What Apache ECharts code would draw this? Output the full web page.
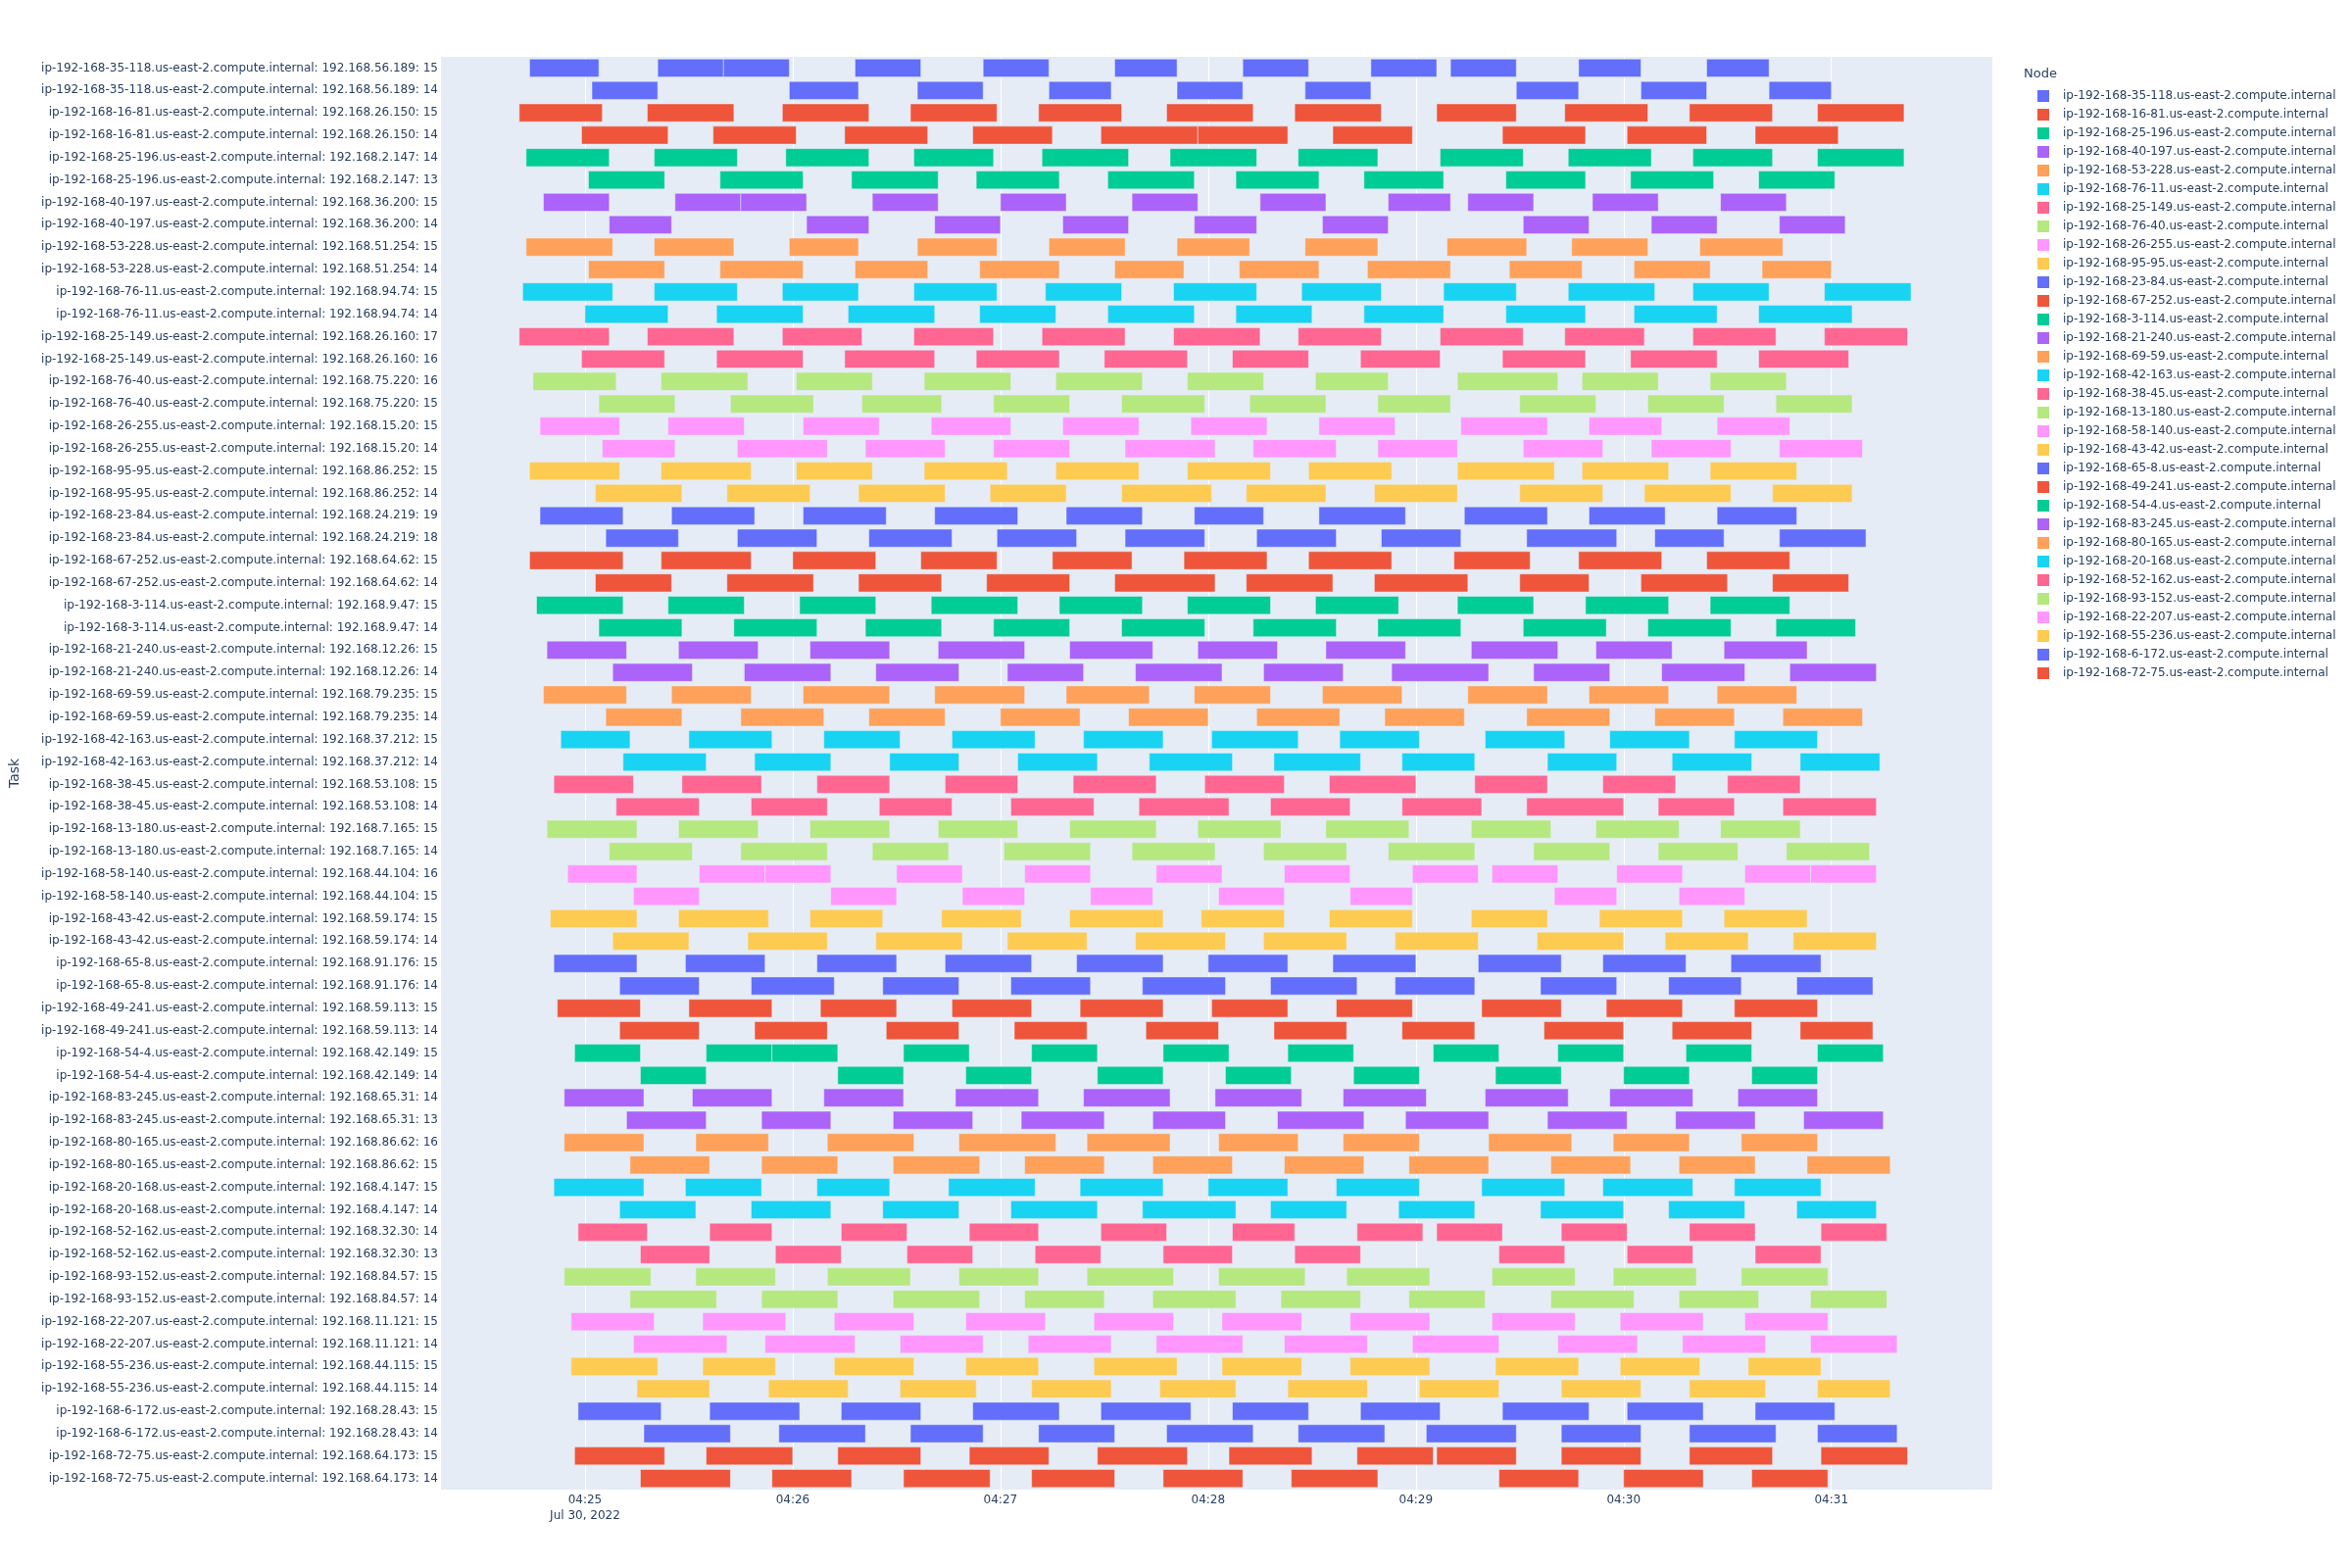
<!DOCTYPE html>
<html><head><meta charset="utf-8">
<script src="https://cdn.jsdelivr.net/npm/echarts@6/dist/echarts.min.js"></script>
<style>html,body{margin:0;padding:0;background:#fff}#chart{width:2400px;height:1600px}</style>
</head><body><div id="chart"></div>
<script>
// Nodes (legend order), their pod IPs and the two task ids shown per node
const nodeHosts = ["35-118","16-81","25-196","40-197","53-228","76-11","25-149","76-40","26-255","95-95","23-84","67-252","3-114","21-240","69-59","42-163","38-45","13-180","58-140","43-42","65-8","49-241","54-4","83-245","80-165","20-168","52-162","93-152","22-207","55-236","6-172","72-75"];
const nodeIPs = ["192.168.56.189","192.168.26.150","192.168.2.147","192.168.36.200","192.168.51.254","192.168.94.74","192.168.26.160","192.168.75.220","192.168.15.20","192.168.86.252","192.168.24.219","192.168.64.62","192.168.9.47","192.168.12.26","192.168.79.235","192.168.37.212","192.168.53.108","192.168.7.165","192.168.44.104","192.168.59.174","192.168.91.176","192.168.59.113","192.168.42.149","192.168.65.31","192.168.86.62","192.168.4.147","192.168.32.30","192.168.84.57","192.168.11.121","192.168.44.115","192.168.28.43","192.168.64.173"];
const taskIds = [[15,14],[15,14],[14,13],[15,14],[15,14],[15,14],[17,16],[16,15],[15,14],[15,14],[19,18],[15,14],[15,14],[15,14],[15,14],[15,14],[15,14],[15,14],[16,15],[15,14],[15,14],[15,14],[15,14],[14,13],[16,15],[15,14],[14,13],[15,14],[15,14],[15,14],[15,14],[15,14]];
const palette = ["#636efa","#EF553B","#00cc96","#ab63fa","#FFA15A","#19d3f3","#FF6692","#B6E880","#FF97FF","#FECB52"];

// x tick labels (minutes after 04:00 on Jul 30, 2022)
const tickMinutes = [25,26,27,28,29,30,31];

// Bars per task row: [start, end] in seconds relative to 04:25:00
const bars01a = [[-16,4],[21,40],[40,59],[78,97],[115,134],[153,171],[190,209],[227,246],[250,269],[287,305],[324,342]];
const bars01b = [[2,21],[59,79],[96,115],[134,152],[171,190],[208,227],[269,287],[305,324],[342,360]];
const bars02a = [[-19,5],[18,43],[57,82],[94,119],[131,155],[168,193],[205,230],[246,269],[283,307],[319,343],[356,381]];
const bars02b = [[-1,24],[37,61],[75,99],[112,135],[149,177],[177,203],[216,239],[265,289],[301,324],[338,362]];
const bars03a = [[-17,7],[20,44],[58,82],[95,118],[132,157],[169,194],[206,229],[247,271],[284,308],[320,343],[356,381]];
const bars03b = [[1,23],[39,63],[77,102],[113,137],[151,176],[188,212],[225,248],[266,289],[302,326],[339,361]];
const bars04a = [[-12,7],[26,45],[45,64],[83,102],[120,139],[158,177],[195,214],[232,250],[255,274],[291,310],[328,347]];
const bars04b = [[7,25],[64,82],[101,120],[138,157],[176,194],[213,232],[271,290],[308,327],[345,364]];
const bars05a = [[-17,8],[20,43],[59,79],[96,119],[134,156],[171,192],[208,229],[249,272],[285,307],[322,346]];
const bars05b = [[1,23],[39,63],[78,99],[114,137],[153,173],[189,212],[226,250],[267,288],[303,325],[340,360]];
const bars06a = [[-18,8],[20,44],[57,79],[95,119],[133,155],[170,194],[207,230],[248,269],[284,309],[320,342],[358,383]];
const bars06b = [[0,24],[38,63],[76,101],[114,136],[151,176],[188,210],[225,248],[266,289],[303,327],[339,366]];
const bars07a = [[-19,7],[18,43],[57,80],[95,118],[132,156],[170,195],[206,230],[247,271],[283,306],[320,344],[358,382]];
const bars07b = [[-1,23],[38,63],[75,101],[113,137],[150,174],[187,209],[224,247],[265,289],[302,327],[339,365]];
const bars08a = [[-15,9],[22,47],[61,83],[98,123],[136,161],[174,196],[211,232],[252,281],[288,310],[325,347]];
const bars08b = [[4,26],[42,66],[80,103],[118,140],[155,179],[192,214],[229,250],[270,292],[307,329],[344,366]];
const bars09a = [[-13,10],[24,46],[63,85],[100,123],[138,160],[175,197],[212,234],[253,278],[290,311],[327,348]];
const bars09b = [[5,26],[44,70],[81,104],[118,140],[156,182],[193,217],[229,252],[271,294],[308,331],[345,369]];
const bars10a = [[-16,10],[22,48],[61,83],[98,122],[136,160],[174,198],[209,233],[252,280],[288,313],[325,350]];
const bars10b = [[3,28],[41,65],[79,104],[117,139],[155,181],[191,214],[228,252],[270,294],[306,331],[343,366]];
const bars11a = [[-13,11],[25,49],[63,87],[101,125],[139,161],[176,196],[212,237],[254,278],[290,312],[327,350]];
const bars11b = [[6,27],[44,67],[82,106],[119,142],[156,179],[194,217],[230,253],[272,298],[309,329],[345,370]];
const bars12a = [[-16,11],[22,48],[60,84],[97,119],[135,158],[173,197],[209,233],[251,273],[287,311],[324,348]];
const bars12b = [[3,25],[41,66],[79,103],[116,140],[153,182],[191,216],[228,255],[270,290],[305,330],[343,365]];
const bars13a = [[-14,11],[24,46],[62,84],[100,125],[137,161],[174,198],[211,235],[252,274],[289,313],[325,348]];
const bars13b = [[4,28],[43,67],[81,103],[118,140],[155,179],[193,217],[229,253],[271,295],[307,331],[344,367]];
const bars14a = [[-11,12],[27,50],[65,88],[102,127],[140,164],[177,200],[214,237],[256,281],[292,314],[329,353]];
const bars14b = [[8,31],[46,71],[84,108],[122,144],[159,184],[196,219],[233,261],[274,296],[311,335],[348,373]];
const bars15a = [[-12,12],[25,48],[63,88],[101,127],[139,163],[176,198],[213,236],[255,278],[290,313],[327,350]];
const bars15b = [[6,28],[45,69],[82,104],[120,143],[157,180],[194,218],[231,254],[272,296],[309,332],[346,369]];
const bars16a = [[-7,13],[30,54],[69,91],[106,130],[144,167],[181,206],[218,241],[260,283],[296,319],[332,356]];
const bars16b = [[11,35],[49,71],[88,108],[125,148],[163,187],[199,224],[236,257],[278,298],[314,337],[351,374]];
const bars17a = [[-9,14],[28,51],[67,88],[104,125],[141,165],[179,202],[215,240],[257,278],[294,315],[330,351]];
const bars17b = [[9,33],[48,70],[85,106],[123,147],[160,186],[198,221],[236,259],[272,300],[310,332],[346,373]];
const bars18a = [[-11,15],[27,50],[65,88],[102,125],[140,165],[177,201],[214,238],[256,279],[292,316],[328,351]];
const bars18b = [[7,31],[45,70],[83,105],[121,146],[158,182],[196,220],[232,257],[274,296],[310,333],[347,371]];
const bars19a = [[-5,15],[33,52],[52,71],[90,109],[127,146],[165,184],[202,221],[239,258],[262,281],[298,317],[335,354],[354,373]];
const bars19b = [[14,33],[71,90],[109,127],[146,164],[183,202],[221,239],[280,298],[316,335]];
const bars20a = [[-10,15],[27,53],[65,86],[103,126],[140,167],[178,202],[215,239],[256,278],[293,317],[329,353]];
const bars20b = [[8,30],[47,70],[84,109],[122,145],[159,185],[196,220],[234,258],[275,300],[312,336],[349,373]];
const bars21a = [[-9,15],[29,52],[67,90],[104,129],[142,167],[180,203],[216,240],[258,282],[294,318],[331,357]];
const bars21b = [[10,33],[48,72],[86,108],[123,146],[161,185],[198,223],[234,257],[276,298],[313,334],[350,372]];
const bars22a = [[-8,16],[30,54],[68,90],[106,129],[143,167],[181,203],[217,239],[259,282],[295,317],[332,356]];
const bars22b = [[10,33],[49,70],[87,108],[124,145],[162,183],[199,220],[236,257],[277,300],[314,337],[351,372]];
const bars23a = [[-3,16],[35,54],[54,73],[92,111],[129,148],[167,186],[203,222],[245,264],[281,300],[318,337],[356,375]];
const bars23b = [[16,35],[73,92],[110,129],[148,167],[185,204],[222,241],[263,282],[300,319],[337,356]];
const bars24a = [[-6,17],[31,54],[69,92],[107,131],[144,169],[182,207],[219,243],[260,284],[296,320],[333,356]];
const bars24b = [[12,35],[51,71],[89,112],[126,150],[164,185],[200,225],[237,261],[278,301],[315,338],[352,375]];
const bars25a = [[-6,17],[32,53],[70,95],[108,136],[145,169],[183,206],[219,241],[261,285],[297,319],[334,356]];
const bars25b = [[13,36],[51,73],[89,114],[127,150],[164,187],[202,225],[238,261],[279,302],[316,338],[353,377]];
const bars26a = [[-9,17],[29,51],[67,88],[105,130],[143,167],[180,203],[217,241],[259,283],[294,320],[332,357]];
const bars26b = [[10,32],[48,71],[86,108],[123,148],[161,188],[198,220],[235,257],[276,300],[313,335],[350,373]];
const bars27a = [[-2,18],[36,54],[74,93],[111,131],[149,168],[187,205],[223,242],[246,265],[282,301],[319,338],[357,376]];
const bars27b = [[16,36],[55,74],[93,112],[130,149],[167,187],[205,224],[264,283],[301,320],[338,357]];
const bars28a = [[-6,19],[32,55],[70,94],[108,131],[145,170],[183,208],[220,244],[262,286],[297,321],[334,359]];
const bars28b = [[13,38],[51,73],[89,114],[127,150],[164,188],[201,224],[238,260],[279,303],[316,339],[354,376]];
const bars29a = [[-4,20],[34,58],[72,95],[110,133],[147,170],[184,207],[221,244],[262,286],[299,323],[335,359]];
const bars29b = [[14,41],[52,78],[91,115],[128,152],[165,190],[202,226],[239,264],[281,304],[317,341],[354,379]];
const bars30a = [[-4,21],[34,55],[72,95],[110,131],[147,171],[184,207],[221,244],[263,287],[299,322],[336,357]];
const bars30b = [[15,36],[53,76],[91,113],[129,152],[166,188],[203,226],[241,264],[282,305],[319,341],[356,377]];
const bars31a = [[-2,22],[36,62],[74,97],[112,137],[149,175],[187,209],[224,247],[265,290],[301,323],[338,361]];
const bars31b = [[17,42],[56,81],[94,115],[131,153],[168,193],[206,231],[243,269],[282,305],[319,344],[356,379]];
const bars32a = [[-3,23],[35,60],[73,97],[111,134],[148,174],[186,210],[223,245],[246,269],[282,305],[319,343],[357,382]];
const bars32b = [[16,42],[54,77],[92,117],[129,153],[167,190],[204,229],[264,287],[300,323],[337,359]];

const rowBars = [bars01a,bars01b,bars02a,bars02b,bars03a,bars03b,bars04a,bars04b,bars05a,bars05b,bars06a,bars06b,bars07a,bars07b,bars08a,bars08b,bars09a,bars09b,bars10a,bars10b,bars11a,bars11b,bars12a,bars12b,bars13a,bars13b,bars14a,bars14b,bars15a,bars15b,bars16a,bars16b,bars17a,bars17b,bars18a,bars18b,bars19a,bars19b,bars20a,bars20b,bars21a,bars21b,bars22a,bars22b,bars23a,bars23b,bars24a,bars24b,bars25a,bars25b,bars26a,bars26b,bars27a,bars27b,bars28a,bars28b,bars29a,bars29b,bars30a,bars30b,bars31a,bars31b,bars32a,bars32b];

const nodeNames = nodeHosts.map(h => 'ip-192-168-' + h + '.us-east-2.compute.internal');
const categories = [];
nodeNames.forEach((n, i) => { taskIds[i].forEach(t => categories.push(n + ': ' + nodeIPs[i] + ': ' + t)); });

const FONT = '"DejaVu Sans", verdana, arial, sans-serif';
const TXT = '#2a3f5f';

function renderItem(params, api) {
  const row = api.value(2);
  const s = api.coord([api.value(0), row]);
  const e = api.coord([api.value(1), row]);
  const h = api.size([0, 1])[1] * 0.8;
  const cs = params.coordSys;
  const r = echarts.graphic.clipRectByRect(
    {x: s[0], y: s[1] - h / 2, width: e[0] - s[0], height: h},
    {x: cs.x, y: cs.y, width: cs.width, height: cs.height});
  return r && {type: 'rect', shape: r, style: {fill: api.visual('color'), stroke: '#E5ECF6', lineWidth: 0.5}};
}

const series = nodeNames.map((n, i) => {
  const data = [];
  [0, 1].forEach(k => {
    const rowIdx = i * 2 + k;
    rowBars[rowIdx].forEach(b => data.push([b[0], b[1], rowIdx]));
  });
  return {
    type: 'custom', name: n, renderItem: renderItem,
    itemStyle: {color: palette[i % palette.length]},
    encode: {x: [0, 1], y: 2}, data: data
  };
});

const tickVals = tickMinutes.map(m => (m - 25) * 60);

const chart = echarts.init(document.getElementById('chart'), null, {renderer: 'canvas'});
chart.setOption({
  backgroundColor: '#ffffff',
  animation: false,
  textStyle: {fontFamily: FONT},
  title: {text: 'Node', left: 2060, top: 64, textStyle: {fontFamily: FONT, fontSize: 13, fontWeight: 'normal', color: TXT}},
  legend: {
    orient: 'vertical', left: 2074, top: 87, itemWidth: 12, itemHeight: 12, itemGap: 7,
    icon: 'rect', data: nodeNames,
    textStyle: {fontFamily: FONT, fontSize: 12, color: TXT, padding: [0, 0, 0, 9]}
  },
  grid: {left: 444, right: 367, top: 58, bottom: 80, show: true, backgroundColor: '#E5ECF6', borderWidth: 0},
  xAxis: {
    type: 'value', min: -41.6, max: 406.5,
    axisLine: {show: false},
    axisTick: {show: false, customValues: tickVals},
    splitLine: {show: true, lineStyle: {color: '#ffffff', width: 1}},
    axisLabel: {
      customValues: tickVals, color: TXT, fontSize: 12, fontFamily: FONT, margin: 3, lineHeight: 16,
      formatter: function (v) {
        const m = 25 + Math.round(v / 60);
        const s = '04:' + String(m).padStart(2, '0');
        return v === 0 ? s + '\nJul 30, 2022' : s;
      }
    }
  },
  yAxis: {
    type: 'category', data: categories, inverse: true,
    name: 'Task', nameLocation: 'middle', nameRotate: 90, nameGap: 428,
    nameTextStyle: {fontFamily: FONT, fontSize: 14, color: TXT},
    axisLine: {show: false}, axisTick: {show: false}, splitLine: {show: false},
    axisLabel: {interval: 0, color: TXT, fontSize: 12, fontFamily: FONT, margin: 3}
  },
  series: series
});
</script></body></html>
